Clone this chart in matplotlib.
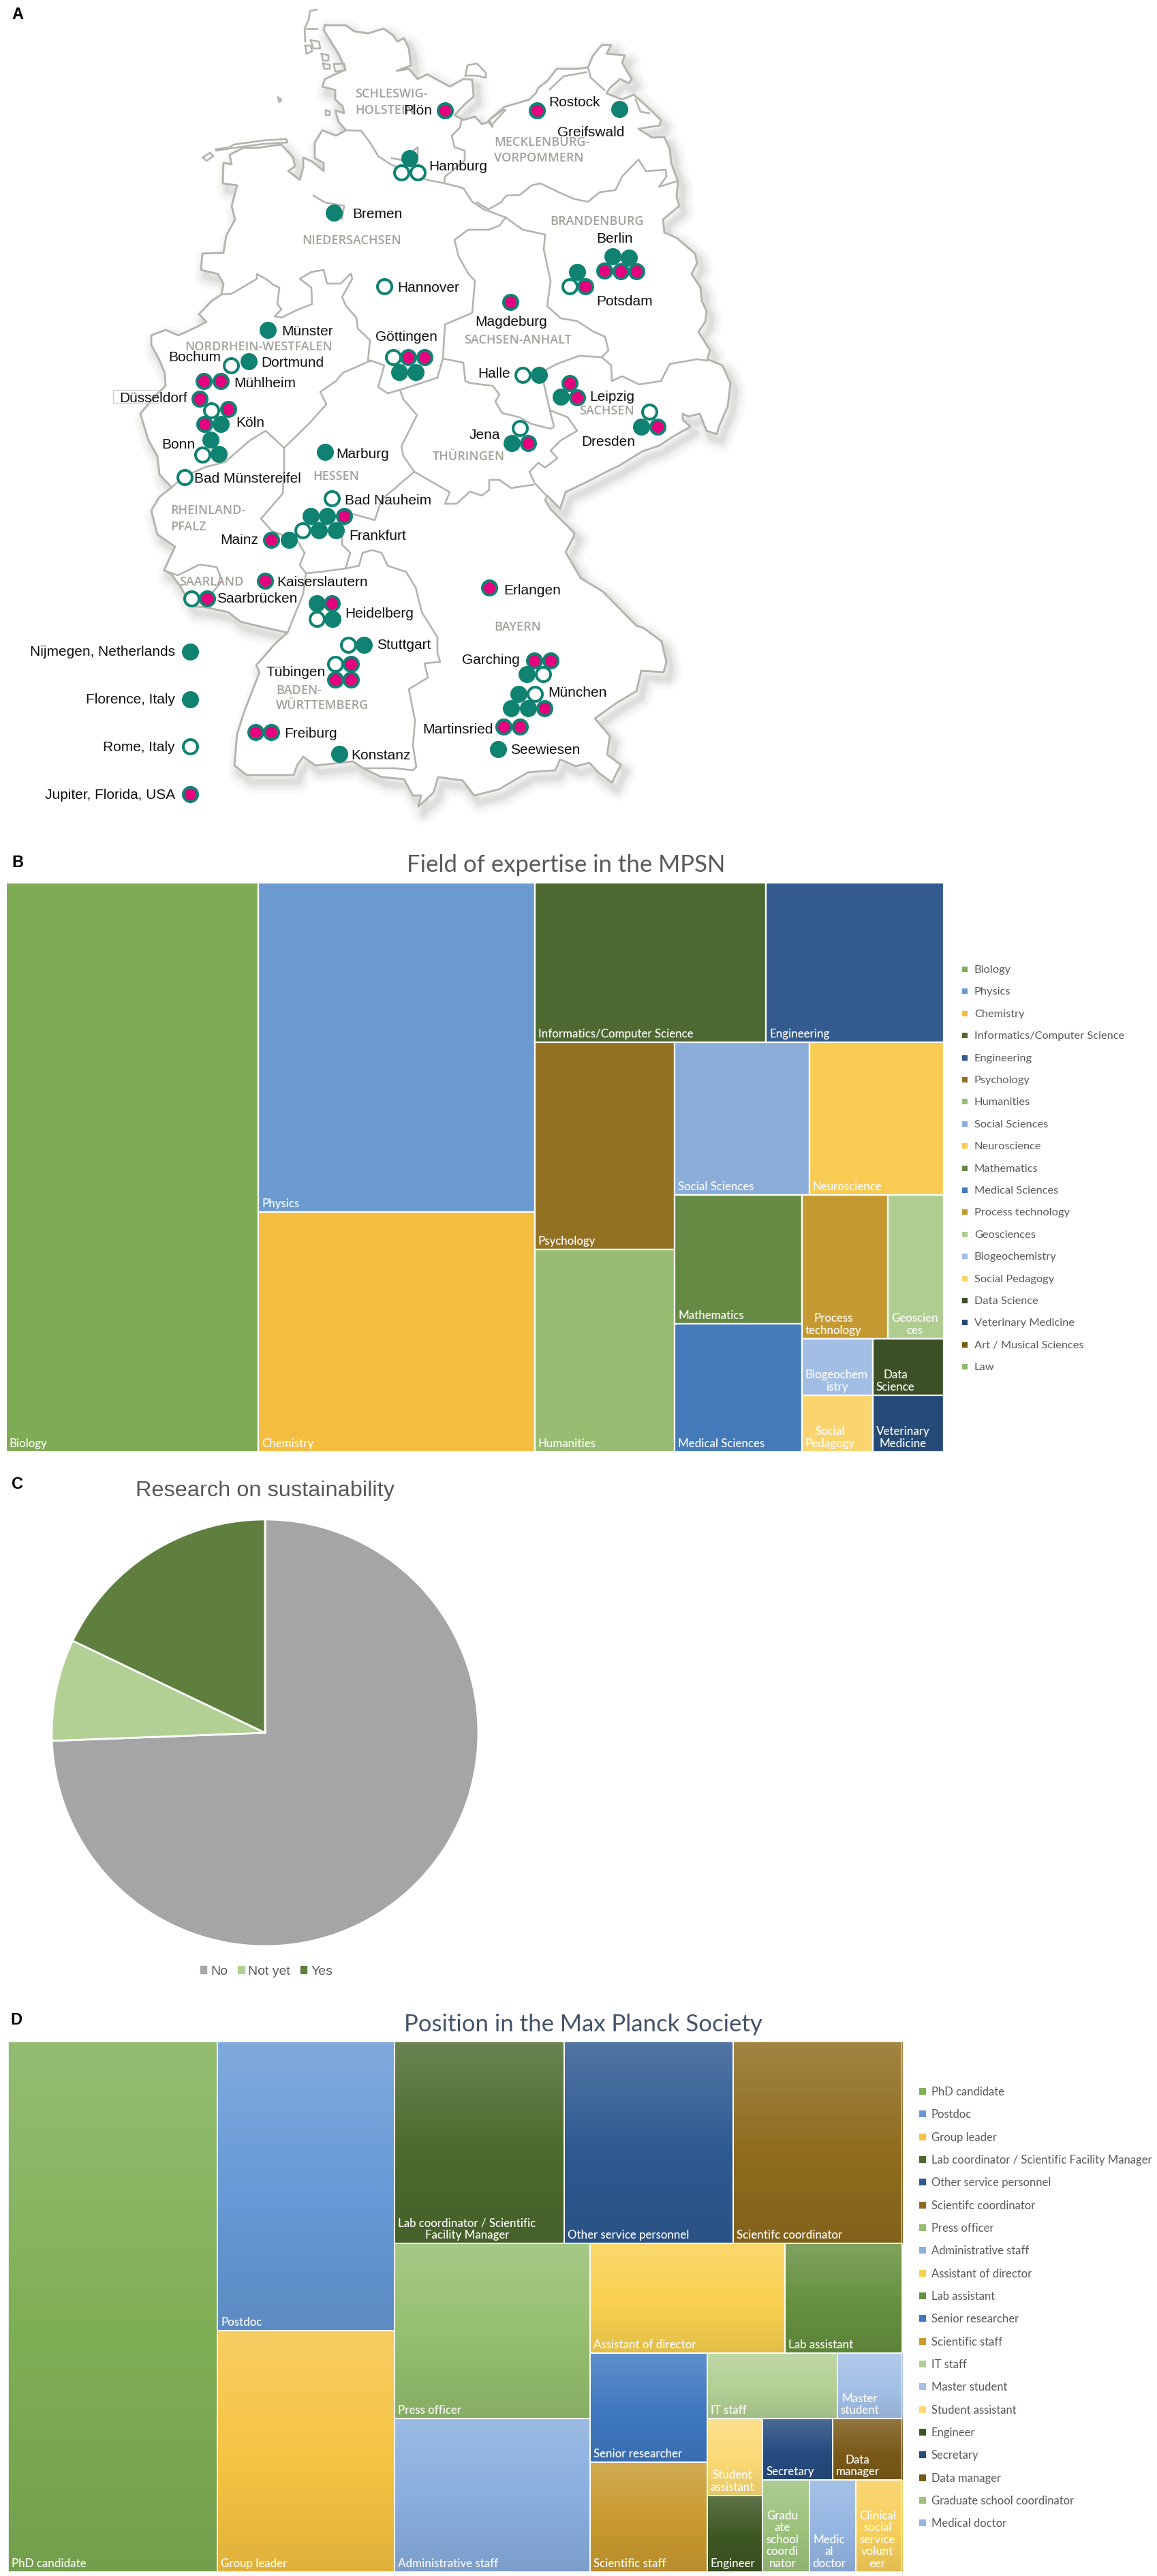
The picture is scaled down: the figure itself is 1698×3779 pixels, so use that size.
import matplotlib
matplotlib.use('Agg')
import numpy as np
import matplotlib.pyplot as plt
from matplotlib.colors import to_rgb
from matplotlib.patches import Rectangle, Patch

W, H = 1699, 3780

# map geometry (picture pixels)
border = [(477,38),(507,38),(520,47),(540,50),(563,43),(577,53),(583,62),(593,57),(600,72),(603,97),(582,105),(600,102),(613,117),
    (627,110),(660,128),(680,117),(693,118),(695,143),(683,153),(667,170),(680,177),(697,172),(707,183),(717,180),(723,187),(718,177),
    (740,158),(760,152),(777,147),(787,137),(790,130),(803,120),(817,102),(847,102),(863,100),(870,83),(883,67),(897,67),(890,80),
    (917,82),(913,93),(927,117),(923,123),(910,117),(895,130),(890,138),(913,147),(930,140),(947,155),(970,177),(968,185),(937,190),
    (957,203),(975,202),(983,220),(985,240),(995,267),(993,290),(997,303),(973,323),(975,342),(993,350),(1020,373),(1023,387),(1015,403),
    (1028,423),(1030,443),(1037,457),(1035,473),(1025,488),(1042,515),(1038,528),(1060,537),(1072,563),(1068,597),(1055,627),(1052,638),
    (1037,633),(1027,608),(1010,612),(1002,608),(1002,617),(1013,627),(990,640),(967,655),(943,663),(907,685),(890,693),(867,705),
    (830,723),(822,747),(803,728),(800,735),(808,748),(843,783),(842,788),(830,811),(852,849),(885,869),(934,919),(944,922),(971,942),
    (978,972),(974,987),(941,985),(934,1015),(905,1032),(873,1055),(895,1081),(891,1108),(911,1123),(898,1149),(878,1134),(865,1120),
    (845,1125),(822,1115),(815,1131),(775,1134),(732,1159),(696,1168),(679,1146),(643,1141),(636,1164),(614,1184),(618,1168),(606,1168),
    (593,1144),(560,1141),(533,1128),(518,1118),(463,1124),(445,1111),(436,1124),(431,1138),(362,1138),(344,1124),(348,1078),(358,1046),
    (381,987),(376,977),(404,945),(422,929),(381,920),(353,913),(335,899),(302,892),(280,890),(266,863),(252,844),(241,837),(257,803),
    (231,785),(222,750),(234,730),(252,716),(234,697),(231,670),(218,647),(206,608),(225,585),(243,567),(242,548),(233,527),(222,507),
    (222,493),(243,485),(262,493),(290,480),(303,473),(292,462),(310,443),(325,433),(328,417),(320,403),(295,397),(297,373),(328,372),
    (332,347),(345,323),(340,303),(348,273),(327,270),(328,240),(340,242),(337,228),(357,218),(377,218),(413,213),(430,232),(433,245),
    (423,252),(440,265),(445,247),(445,232),(458,238),(475,252),(475,240),(462,233),(462,210),(473,192),(493,200),(508,192),(497,180),
    (492,163),(505,167),(503,157),(492,147),(492,133),(473,128),(477,117),(507,103),(497,80),(475,45),(477,38)]
inner_lines = [
    # Elbe, then on to Brandenburg / Sachsen-Anhalt
    [(508,192),(530,193),(543,210),(555,230),(573,242),(627,265),(653,270),(680,277),(693,297),(710,308),(742,320),(767,338),(800,345),
     (798,367),(803,390),(808,413),(803,450),(823,468),(847,472),(870,487),(888,495),(893,515),(883,525),(850,523),(817,535),(802,543),
     (798,563),(807,603),(813,627),(808,630),(780,623),(762,613),(737,607),(727,590),(733,580),(723,567),(690,563),(683,560),(680,533),(650,527)],
    # Mecklenburg / Brandenburg
    [(700,298),(717,308),(735,298),(743,288),(763,287),(780,273),(793,270),(820,283),(843,293),(863,297),(880,283),(903,280),(913,260),
     (937,235),(948,252),(977,250),(978,260),(967,275),(993,267)],
    # Schleswig-Holstein / Mecklenburg
    [(677,177),(675,188),(663,200),(667,217),(682,222),(682,237),(653,260),(652,270)],
    # Sachsen-Anhalt north and west
    [(742,320),(733,332),(717,338),(687,338),(667,353),(673,377),(687,402),(697,413),(693,460),(653,477),(650,527)],
    # Brandenburg / Sachsen
    [(883,525),(897,537),(898,560),(913,553),(938,565),(970,560),(983,535),(1023,528),(1038,530)],
    # Sachsen / Thüringen / Bayern
    [(807,603),(833,613),(847,633),(823,647),(808,662),(818,673),(800,687),(790,680),(777,693),(785,710),(802,728)],
    [(783,712),(750,717),(733,705),(718,705),(718,720),(707,728),(690,722),(670,740),(653,740),(660,723),(608,693)],
    # Hessen
    [(650,527),(642,555),(615,564),(587,573),(569,578),(555,569),(564,537),(544,530),(503,548),(493,560),(470,576),(479,594),(454,622),(417,658)],
    [(587,573),(592,587),(612,610),(589,656),(592,670),(608,693),(560,734),(550,764),(518,755),(502,775),(502,800),(514,812),(507,835),(470,840),(449,842)],
    # Nordrhein-Westfalen / Rheinland-Pfalz
    [(417,658),(390,633),(367,647),(330,679),(302,686),(270,700),(252,716)],
    [(417,658),(417,688),(415,725),(383,762),(399,780),(436,794),(447,812),(440,830),(449,842),(445,872),(422,929)],
    # Baden-Württemberg / Bayern
    [(507,835),(527,831),(532,812),(546,808),(560,812),(569,831),(596,840),(610,863),(619,899),(642,936),(642,959),(646,972),(623,974),
     (628,995),(600,1012),(609,1058),(606,1095),(611,1126),(606,1131),(580,1128),(533,1128)],
    # Nordrhein-Westfalen / Niedersachsen
    [(325,433),(340,432),(360,420),(377,410),(377,403),(390,410),(400,418),(410,423),(407,447),(413,455),(403,465),(413,467),(433,457),
     (458,447),(457,423),(440,410),(457,400),(475,397),(480,417),(500,417),(515,402),(517,410),(502,437),(508,450),(523,467),(525,483),(543,500),(540,530),(544,530)],
    # Saarland, Bremen, Hamburg
    [(241,838),(261,845),(293,829),(318,833),(326,853),(312,870),(300,880)],
    [(460,288),(477,298),(505,303),(502,322)],
    [(575,233),(590,236),(613,217),(613,230)],
    # islands and lagoons
    [(465,15),(455,17),(453,30),(447,43),(448,62)],
    [(450,43),(465,43)],
    [(448,68),(456,68),(458,76),(450,80),(448,68)],
    [(456,60),(468,62),(470,72),(460,72),(456,60)],
    [(472,80),(482,82),(482,90),(474,90),(472,80)],
    [(474,94),(484,96),(484,102),(476,102),(474,94)],
    [(490,95),(505,94),(507,104),(492,106),(490,95)],
    [(683,112),(686,97),(700,94),(713,108),(713,115),(700,112),(683,112)],
    [(717,178),(737,163),(742,162),(730,175),(723,183)],
    [(807,132),(827,113),(860,107)],
    [(863,100),(867,115),(887,133)],
    [(933,147),(940,165),(953,167)],
    [(298,232),(308,225),(313,230),(303,237),(298,232)],
    [(317,220),(337,217),(343,213),(387,207),(420,205),(422,210),(387,212),(343,218),(317,222),(317,220)],
    [(408,144),(413,147),(410,151),(408,144)],
    [(478,163),(484,164),(484,170),(478,170),(478,163)],
]

# institutes: full green, open ring, magenta
teal_x = [909,601,490,899,923,847,393,365,324,309,321,586,610,791,823,941,751,477,456,480,468,493,424,465,488,534,773,761,750,775,731,498,279,279]
teal_y = [161,233,313,377,379,400,485,531,623,646,667,547,547,551,583,627,651,664,758,758,779,779,793,886,909,947,990,1019,1040,1040,1100,1107,957,1027]
open_x = [589,613,564,836,339,310,297,271,577,767,953,763,487,444,281,465,511,492,797,785,279]
open_y = [254,254,421,421,537,603,668,701,525,551,605,629,732,779,879,909,947,975,990,1019,1096]
pink_x = [653,788,887,911,934,859,749,299,324,293,335,300,599,623,836,847,965,775,505,398,389,304,487,515,492,515,718,784,808,799,739,763,375,398,279]
pink_y = [163,163,398,399,399,421,444,560,560,586,601,623,525,525,563,584,627,651,758,793,853,879,886,975,998,998,863,970,970,1040,1067,1067,1075,1075,1166]

city_names = ['Plön','Rostock','Greifswald','Hamburg','Bremen','Hannover','Berlin','Potsdam','Magdeburg','Münster','Göttingen',
    'Bochum','Dortmund','Mühlheim','Düsseldorf','Halle','Leipzig','Köln','Dresden','Jena','Bonn','Marburg','Bad Münstereifel',
    'Bad Nauheim','Frankfurt','Mainz','Kaiserslautern','Erlangen','Saarbrücken','Heidelberg','Stuttgart','Tübingen','Garching',
    'München','Freiburg','Konstanz','Martinsried','Seewiesen']
city_x = [592,805,818,629,517,583,875,875,697,413,551,247,383,343,175,701,865,346,853,689,237,493,285,506,512,323,406,739,318,506,553,391,678,804,417,515,620,749]
city_y = [163,151,195,245,315,423,351,442,473,487,495,525,533,563,585,548,582,621,649,639,652,666,703,735,787,793,855,867,879,901,947,986,968,1017,1077,1108,1070,1101]

state_names = ['SCHLESWIG-','HOLSTEIN','MECKLENBURG-','VORPOMMERN','BRANDENBURG','NIEDERSACHSEN','SACHSEN-ANHALT','NORDRHEIN-WESTFALEN',
    'SACHSEN','THÜRINGEN','HESSEN','RHEINLAND-','PFALZ','SAARLAND','BAYERN','BADEN-','WÜRTTEMBERG']
state_x = [521,521,725,725,807,443,681,271,850,635,459,250,250,263,725,405,405]
state_y = [138,162,209,232,325,353,499,509,603,670,699,749,773,854,920,1013,1035]

legend_places = ['Nijmegen, Netherlands','Florence, Italy','Rome, Italy','Jupiter, Florida, USA']
legend_place_y = [957,1027,1096,1166]

# panel B
field_names = ['Biology','Physics','Chemistry','Informatics/Computer Science','Engineering','Psychology','Humanities','Social Sciences',
    'Neuroscience','Mathematics','Medical Sciences','Process technology','Geosciences','Biogeochemistry','Social Pedagogy','Data Science',
    'Veterinary Medicine','Art / Musical Sciences','Law']
field_vals = [26.8,17.0,12.4,6.9,5.3,5.4,5.3,3.83,3.83,3.05,3.05,2.3,1.5,0.75,0.75,0.75,0.75,0,0]
field_cols = ['#7FAB55','#6A9AD0','#F4BD40','#4D6830','#335B8E','#937122','#97BC72','#8BADD9','#F8CB52','#668A43','#447AB9','#C59A33',
    '#AFCD90','#A3BEE4','#FAD56F','#3C5026','#264A77','#7A5A14','#8EBB6A']
field_wrap = {'Process technology':'Process\ntechnology','Geosciences':'Geoscien\nces','Biogeochemistry':'Biogeochem\nistry',
    'Social Pedagogy':'Social\nPedagogy','Data Science':'Data\nScience','Veterinary Medicine':'Veterinary\nMedicine'}
field_tree = ('h',['Biology',('v',['Physics','Chemistry']),
    ('v',[('h',['Informatics/Computer Science','Engineering']),
        ('h',[('v',['Psychology','Humanities']),
            ('v',[('h',['Social Sciences','Neuroscience']),
                ('h',[('v',['Mathematics','Medical Sciences']),
                    ('v',[('h',['Process technology','Geosciences']),
                        ('h',[('v',['Biogeochemistry','Social Pedagogy']),('v',['Data Science','Veterinary Medicine'])])])])])])])])

# panel C
pie_labels = ['No','Not yet','Yes']
pie_vals = [74.4,7.7,17.9]
pie_cols = ['#A5A5A5','#B2D094','#5E7F3E']

# panel D
pos_names = ['PhD candidate','Postdoc','Group leader','Lab coordinator / Scientific Facility Manager','Other service personnel','Scientifc coordinator',
    'Press officer','Administrative staff','Assistant of director','Lab assistant','Senior researcher','Scientific staff','IT staff','Master student',
    'Student assistant','Engineer','Secretary','Data manager','Graduate school coordinator','Medical doctor','Clinical social service volunteer']
pos_vals = [26,12,10,8,8,8,8,7,5,3,3,3,2,1,1,1,1,1,1,1,1]
pos_cols = ['#7FAF55','#6699D6','#F6C342','#4C6A2E','#2E5A91','#8F6C1E','#94BE6E','#88ADDE','#F9D04F','#66903F','#3F78C0','#C99A2F',
    '#B2D094','#A3C0E6','#FBDA75','#3D5722','#264C80','#7A5A18','#9CC27C','#94B5E2','#F8CF5A']
pos_wrap = {'Lab coordinator / Scientific Facility Manager':'Lab coordinator / Scientific\nFacility Manager','Master student':'Master\nstudent',
    'Student assistant':'Student\nassistant','Data manager':'Data\nmanager','Graduate school coordinator':'Gradu\nate\nschool\ncoordi\nnator',
    'Medical doctor':'Medic\nal\ndoctor','Clinical social service volunteer':'Clinical\nsocial\nservice\nvolunt\neer'}
pos_tree = ('h',['PhD candidate',('v',['Postdoc','Group leader']),
    ('v',[('h',['Lab coordinator / Scientific Facility Manager','Other service personnel','Scientifc coordinator']),
        ('h',[('v',['Press officer','Administrative staff']),
            ('v',[('h',['Assistant of director','Lab assistant']),
                ('h',[('v',['Senior researcher','Scientific staff']),
                    ('v',[('h',['IT staff','Master student']),
                        ('h',[('v',['Student assistant','Engineer']),
                            ('v',[('h',['Secretary','Data manager']),
                                ('h',['Graduate school coordinator','Medical doctor','Clinical social service volunteer'])])])])])])])])])

TEAL = '#0F8271'
PINK = '#E5007D'
ARIAL = 'Liberation Sans'
CAL = 'Lato'


def node_sum(node, vals):
    if isinstance(node, str):
        return vals[node]
    return sum(node_sum(c, vals) for c in node[1])


def layout(node, vals, x, y, w, h, out):
    # cut the box along the tree, each part as wide as its share of the values
    if isinstance(node, str):
        out[node] = (x, y, w, h)
        return out
    total = node_sum(node, vals)
    for c in node[1]:
        part = node_sum(c, vals) / total
        if node[0] == 'h':
            layout(c, vals, x, y, w * part, h, out)
            x += w * part
        else:
            layout(c, vals, x, y, w, h * part, out)
            y += h * part
    return out


def pix_axes(x0, y0, x1, y1):
    a = fig.add_axes([x0 / W, 1 - y1 / H, (x1 - x0) / W, (y1 - y0) / H])
    a.patch.set_alpha(0)
    a.axis('off')
    return a


def gradient(col):
    c = np.array(to_rgb(col))
    top = c + (1 - c) * 0.17
    bottom = c * 0.91
    t = np.linspace(0, 1, 128)
    rows = []
    for v in t:
        if v < 0.55:
            rows.append(top + (c - top) * v / 0.55)
        else:
            rows.append(c + (bottom - c) * (v - 0.55) / 0.45)
    return np.array(rows).reshape(128, 1, 3)


def treemap(a, names, vals, cols, tree, wrap, lw, fade=False):
    v = dict(zip(names, vals))
    boxes = layout(tree, v, 0, 0, 1, 1, {})
    for name, col in zip(names, cols):
        if name not in boxes:
            continue
        x, y, w, h = boxes[name]
        if fade:
            a.imshow(gradient(col), extent=(x, x + w, y + h, y), aspect='auto', interpolation='bilinear', zorder=1)
            a.add_patch(Rectangle((x, y), w, h, fill=False, edgecolor='white', lw=lw, zorder=2))
        else:
            a.add_patch(Rectangle((x, y), w, h, facecolor=col, edgecolor='white', lw=lw, zorder=1))
        a.annotate(wrap.get(name, name), (x, y + h), xytext=(5, 5), textcoords='offset pixels', color='white', ha='left', va='bottom',
                   ma='center', fontsize=12.2, family=CAL, weight='medium', linespacing=1.12, zorder=3)
    a.set_xlim(0, 1)
    a.set_ylim(1, 0)


fig = plt.figure(figsize=(W / 100, H / 100), dpi=100)
ax = fig.add_axes([0, 0, 1, 1])
ax.set_xlim(0, W)
ax.set_ylim(H, 0)
ax.axis('off')

# panel A
bx = np.array([p[0] for p in border])
by = np.array([p[1] for p in border])
for lw_s, al in [(24, 0.04), (17, 0.05), (11, 0.07), (6, 0.09)]:
    ax.plot(bx + 7, by + 10, color='#77776f', alpha=al, lw=lw_s, solid_joinstyle='round', zorder=1)
ax.fill(bx, by, color='white', zorder=2)
ax.plot(bx, by, color='#B4B4AD', lw=2.1, solid_joinstyle='round', zorder=3)
for line in inner_lines:
    ax.plot([p[0] for p in line], [p[1] for p in line], color='#B4B4AD', lw=1.9, solid_joinstyle='round', zorder=3)
# the little box behind Düsseldorf
ax.plot([232, 166, 166, 232], [573, 573, 592, 592], color='#CCCCCC', lw=1, zorder=3)

for n, x, y in zip(state_names, state_x, state_y):
    ax.text(x, y, n, color='#A3A39B', fontsize=13, family='Open Sans', weight='semibold', va='center', zorder=4)
ax.scatter(teal_x, teal_y, s=228, facecolor=TEAL, edgecolor=TEAL, lw=2.9, zorder=5)
ax.scatter(open_x, open_y, s=228, facecolor='white', edgecolor=TEAL, lw=2.9, zorder=5)
ax.scatter(pink_x, pink_y, s=228, facecolor=PINK, edgecolor=TEAL, lw=2.9, zorder=5)
for n, x, y in zip(city_names, city_x, city_y):
    ax.text(x, y, n, color='#111111', fontsize=15, family=ARIAL, va='center', zorder=6)
for n, y in zip(legend_places, legend_place_y):
    ax.text(257, y, n, color='#111111', fontsize=15, family=ARIAL, va='center', ha='right', zorder=6)

# panel letters
for letter, x, y in [('A', 17, 21), ('B', 17, 1266), ('C', 17, 2177), ('D', 15, 2964)]:
    ax.text(x, y, letter, fontsize=17, family=ARIAL, weight='bold', va='center', color='black')

# panel B
ax_b = pix_axes(9, 1296, 1385, 2131)
treemap(ax_b, field_names, field_vals, field_cols, field_tree, field_wrap, 1.6)
ax.text(831, 1269, 'Field of expertise in the MPSN', fontsize=25, family=CAL, color='#595959', ha='center', va='center')
for i, (n, c) in enumerate(zip(field_names, field_cols)):
    ax.scatter(1416, 1423 + i * 32.4, marker='s', s=38, color=c, lw=0)
    ax.text(1430, 1423 + i * 32.4, n, fontsize=11.8, family=CAL, color='#595959', va='center')

# panel C
ax_c = pix_axes(76, 2230, 702, 2856)
ax_c.pie(pie_vals, colors=pie_cols, startangle=90, counterclock=False, radius=1, wedgeprops={'edgecolor': 'white', 'lw': 2})
ax_c.set_xlim(-1, 1)
ax_c.set_ylim(-1, 1)
ax.text(389, 2187, 'Research on sustainability', fontsize=23.4, family=ARIAL, color='#595959', ha='center', va='center')
leg = ax.legend(handles=[Patch(color=c, label=l) for l, c in zip(pie_labels, pie_cols)], ncol=3, frameon=False, loc='center',
                bbox_to_anchor=(391 / W, 1 - 2893 / H), prop={'family': ARIAL, 'size': 14}, handlelength=0.5, handleheight=0.5,
                handletextpad=0.3, columnspacing=0.75, labelcolor='#595959')

# panel D
ax_d = pix_axes(12, 2996, 1324, 3774)
treemap(ax_d, pos_names, pos_vals, pos_cols, pos_tree, pos_wrap, 1.2, fade=True)
ax.text(856, 2970, 'Position in the Max Planck Society', fontsize=25, family=CAL, color='#44546A', ha='center', va='center')
for i, (n, c) in enumerate(zip(pos_names[:20], pos_cols[:20])):
    ax.scatter(1354, 3069 + i * 33.34, marker='s', s=60, color=c, lw=0)
    ax.text(1367, 3069 + i * 33.34, n, fontsize=12, family=CAL, color='#595959', va='center')

fig.savefig('out.png', dpi=100)
